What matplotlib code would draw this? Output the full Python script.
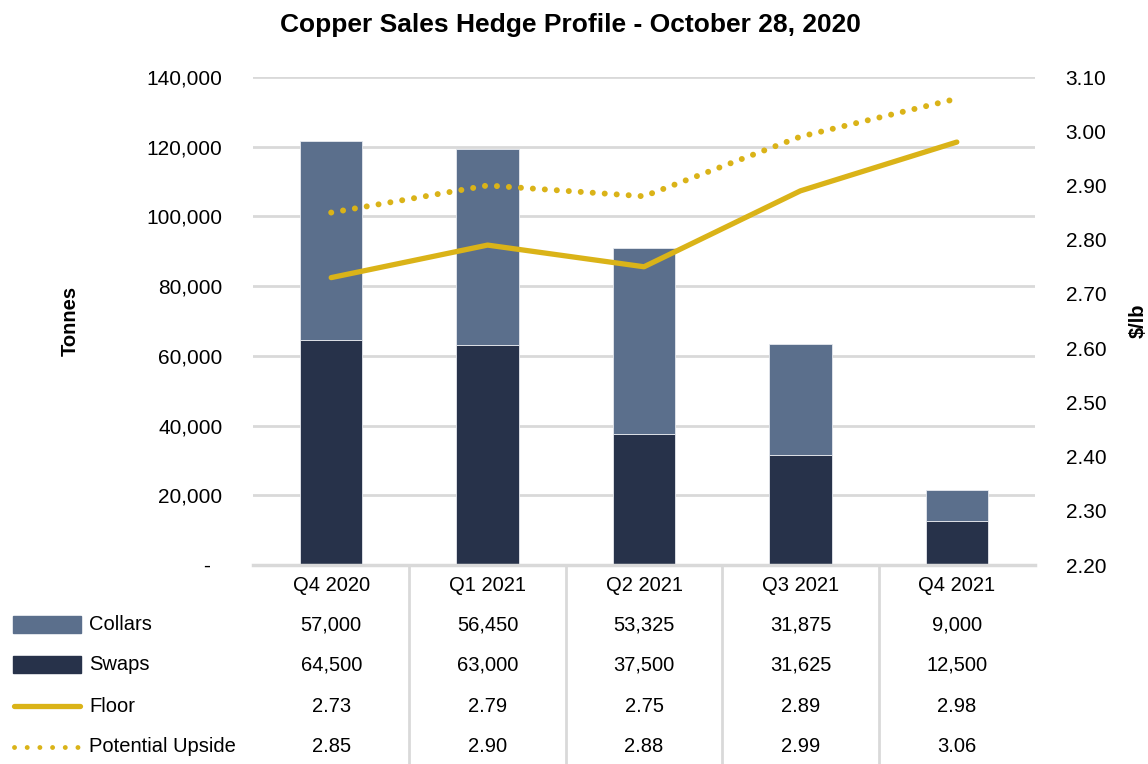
import matplotlib
matplotlib.use('Agg')
from matplotlib import pyplot as plt
from matplotlib.lines import Line2D
from matplotlib.patches import Rectangle
from matplotlib.transforms import blended_transform_factory
from matplotlib.ticker import FuncFormatter
import numpy as np

plt.rcParams['font.family'] = ['Liberation Sans', 'DejaVu Sans']

quarters = ['Q4 2020', 'Q1 2021', 'Q2 2021', 'Q3 2021', 'Q4 2021']
collars = [57000, 56450, 53325, 31875, 9000]
swaps = [64500, 63000, 37500, 31625, 12500]
floor = [2.73, 2.79, 2.75, 2.89, 2.98]
upside = [2.85, 2.90, 2.88, 2.99, 3.06]

c_collars = '#5b6f8c'
c_swaps = '#27324a'
c_gold = '#dab318'
c_grid = '#d9d9d9'
dots = (0, (0.01, 2))

fig = plt.figure(figsize=(11.48, 7.64), dpi=100)
ax = fig.add_axes([253/1148, 1 - 565/764, (1035-253)/1148, (565-77)/764])
x = np.arange(len(quarters))

ax.bar(x, swaps, width=0.4, color=c_swaps, edgecolor='#e6e9ee', linewidth=0.6, zorder=2)
ax.bar(x, collars, width=0.4, bottom=swaps, color=c_collars, edgecolor='#e6e9ee', linewidth=0.6, zorder=2)
ax.set_xlim(-0.5, 4.5)
ax.set_ylim(0, 140000)
ax.set_yticks(np.arange(0, 140001, 20000))
ax.yaxis.set_major_formatter(FuncFormatter(lambda v, p: '-  ' if v == 0 else f'{v:,.0f}'))
ax.grid(axis='y', color=c_grid, linewidth=2, zorder=0)
ax.set_axisbelow(True)
for s in ['top', 'left', 'right']:
    ax.spines[s].set_visible(False)
ax.spines['bottom'].set_color(c_grid)
ax.spines['bottom'].set_linewidth(2.5)
ax.tick_params(axis='y', length=0, pad=22, labelsize=15)
ax.set_xticks(x)
ax.set_xticklabels(quarters)
ax.tick_params(axis='x', length=0, pad=8, labelsize=14.5)
ax.set_ylabel('Tonnes', fontsize=14.5, fontweight='bold', labelpad=48)

ax2 = ax.twinx()
ax2.set_ylim(2.2, 3.1)
ax2.set_yticks(np.arange(2.2, 3.101, 0.1))
ax2.yaxis.set_major_formatter(FuncFormatter(lambda v, p: f'{v:.2f}'))
ax2.plot(x, floor, color=c_gold, linewidth=3.8, solid_capstyle='round', zorder=3)
ax2.plot(x, upside, color=c_gold, linewidth=4.3, linestyle=dots, dash_capstyle='round', zorder=3)
for s in ['top', 'left', 'right', 'bottom']:
    ax2.spines[s].set_visible(False)
ax2.tick_params(axis='y', length=0, pad=22, labelsize=15)
ax2.set_ylabel('$/lb', fontsize=14.5, fontweight='bold', labelpad=16)

fig.text(570/1148, 1 - 25/764, 'Copper Sales Hedge Profile - October 28, 2020',
         ha='center', va='center', fontsize=19, fontweight='bold')

# data table under the chart
tr = blended_transform_factory(ax.transData, fig.transFigure)
for b in [0.5, 1.5, 2.5, 3.5]:
    ax.add_line(Line2D([b, b], [0, 1 - 565/764], transform=tr, color=c_grid, linewidth=2, clip_on=False))

rows = [
    ('Collars', [f'{v:,}' for v in collars], 625),
    ('Swaps', [f'{v:,}' for v in swaps], 665),
    ('Floor', [f'{v:.2f}' for v in floor], 706),
    ('Potential Upside', [f'{v:.2f}' for v in upside], 747),
]
for label, vals, ypx in rows:
    yf = 1 - ypx/764
    fig.text(89/1148, yf, label, ha='left', va='center', fontsize=14.5)
    for i, v in enumerate(vals):
        ax.text(x[i], yf, v, transform=tr, ha='center', va='center', fontsize=14.5, clip_on=False)

fig.patches.append(Rectangle((13/1148, 1 - 633/764), 68/1148, 17/764, transform=fig.transFigure, color=c_collars))
fig.patches.append(Rectangle((13/1148, 1 - 673/764), 68/1148, 17/764, transform=fig.transFigure, color=c_swaps))
fig.lines.append(Line2D([14/1148, 80/1148], [1 - 706/764] * 2, transform=fig.transFigure,
                        color=c_gold, linewidth=3.8, solid_capstyle='round'))
fig.lines.append(Line2D([14/1148, 80/1148], [1 - 747/764] * 2, transform=fig.transFigure,
                        color=c_gold, linewidth=3.5, linestyle=(0, (0.01, 2.6)), dash_capstyle='round'))

fig.savefig('out.png', dpi=100)
